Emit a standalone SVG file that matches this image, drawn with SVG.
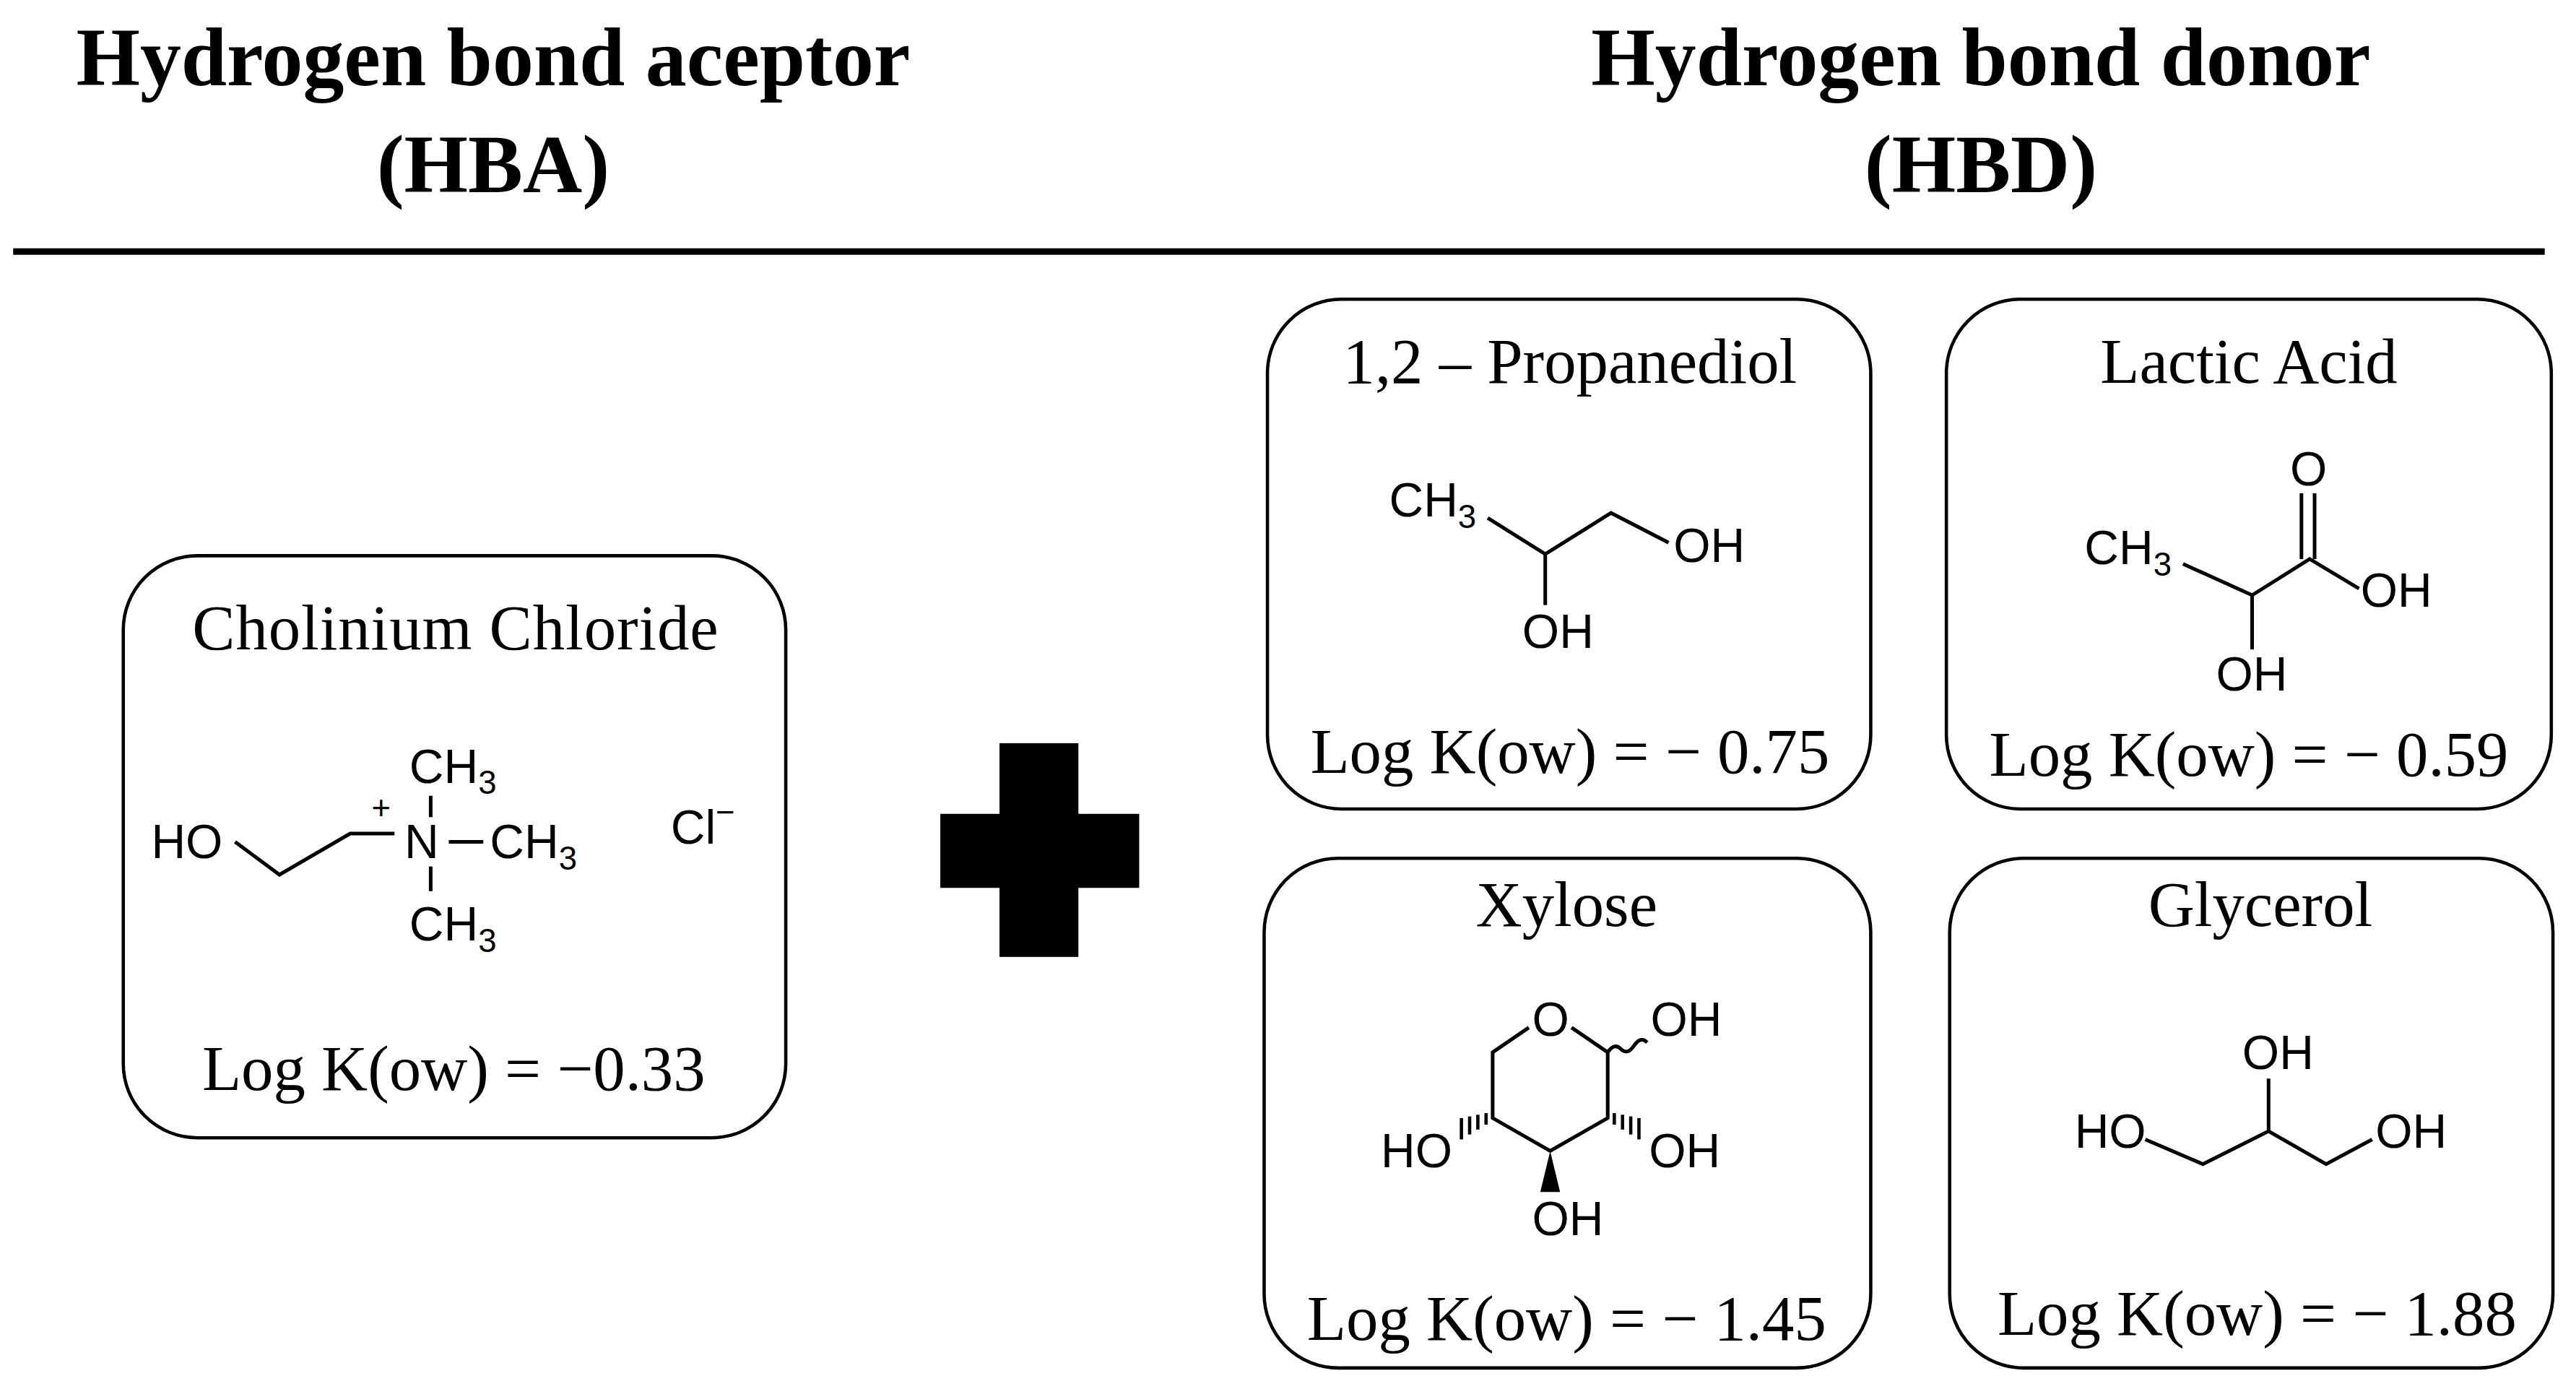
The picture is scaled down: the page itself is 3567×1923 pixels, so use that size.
<svg xmlns="http://www.w3.org/2000/svg" width="3567" height="1923" viewBox="0 0 3567 1923">
<style>
.t{font-family:"Liberation Serif",serif;font-weight:bold;font-size:50px;text-anchor:middle;fill:#000}
.l{font-family:"Liberation Serif",serif;font-size:39px;text-anchor:middle;fill:#000}
.c{font-family:"Liberation Sans",sans-serif;font-size:29px;fill:#000}
.s{font-size:20px}
.b{fill:none;stroke:#000;stroke-width:2.2}
.bx{fill:#fff;stroke:#000;stroke-width:2}
</style>
<rect width="3567" height="1923" fill="#fff"/>
<g transform="scale(2.2763)">
<g id="titles">
<text class="t" x="300" y="52">Hydrogen bond aceptor</text>
<text class="t" x="300" y="117">(HBA)</text>
<text class="t" x="1205" y="52">Hydrogen bond donor</text>
<text class="t" x="1205" y="117">(HBD)</text>
<line x1="8" y1="153" x2="1548" y2="153" stroke="#000" stroke-width="4"/>
</g>
<g id="choline">
<rect class="bx" x="75" y="338" width="403" height="354" rx="45"/>
<text class="l" x="277" y="395" textLength="320">Cholinium Chloride</text>
<text class="c" x="92" y="522">HO</text>
<polyline class="b" points="143,512 170,532 213,507 240,507"/>
<text class="c" x="246" y="522">N</text>
<text class="c s" x="226" y="498">+</text>
<text class="c" x="249" y="476">CH<tspan class="s" dy="7">3</tspan></text>
<line class="b" x1="262" y1="484" x2="262" y2="497"/>
<line class="b" x1="273" y1="512" x2="294" y2="512"/>
<text class="c" x="298" y="522">CH<tspan class="s" dy="7">3</tspan></text>
<line class="b" x1="262" y1="527" x2="262" y2="542"/>
<text class="c" x="249" y="572">CH<tspan class="s" dy="7">3</tspan></text>
<text class="c" x="408" y="513">Cl<tspan class="s" dy="-12">−</tspan></text>
<text class="l" x="276" y="663">Log K(ow) = −0.33</text>
</g>
<g id="plus">
<rect x="608" y="452" width="48" height="130" fill="#000"/>
<rect x="572" y="495" width="121" height="45" fill="#000"/>
</g>
<g id="propanediol">
<rect class="bx" x="771" y="182" width="367" height="310" rx="45"/>
<text class="l" x="955" y="233">1,2 – Propanediol</text>
<text class="c" x="845" y="314">CH<tspan class="s" dy="7">3</tspan></text>
<polyline class="b" points="905,315 940,337 980,312 1015,330"/>
<line class="b" x1="940" y1="337" x2="940" y2="368"/>
<text class="c" x="1018" y="342">OH</text>
<text class="c" x="926" y="394">OH</text>
<text class="l" x="955" y="470">Log K(ow) = − 0.75</text>
</g>
<g id="lactic">
<rect class="bx" x="1184" y="182" width="368" height="310" rx="45"/>
<text class="l" x="1368" y="233">Lactic Acid</text>
<text class="c" x="1268" y="343">CH<tspan class="s" dy="7">3</tspan></text>
<polyline class="b" points="1328,343 1370,362 1405,340 1435,358"/>
<line class="b" x1="1400" y1="340" x2="1400" y2="300"/>
<line class="b" x1="1408" y1="340" x2="1408" y2="300"/>
<text class="c" x="1393" y="295">O</text>
<text class="c" x="1436" y="369">OH</text>
<line class="b" x1="1370" y1="362" x2="1370" y2="395"/>
<text class="c" x="1348" y="420">OH</text>
<text class="l" x="1368" y="472">Log K(ow) = − 0.59</text>
</g>
<g id="xylose">
<rect class="bx" x="769" y="522" width="369" height="310" rx="45"/>
<text class="l" x="953" y="563">Xylose</text>
<text class="c" x="932" y="630">O</text>
<polyline class="b" points="930,625 908,640 908,680 943,700 978,680 978,640 956,625"/>
<path class="b" d="M978,640 q4,-6 8,-2 q4,4 8,-2 q4,-6 8,-2"/>
<text class="c" x="1004" y="630">OH</text>
<g stroke="#000" stroke-width="2">
<line x1="982" y1="684" x2="982" y2="677"/><line x1="987" y1="687" x2="987" y2="678"/><line x1="992" y1="690" x2="992" y2="679"/><line x1="997" y1="693" x2="997" y2="680"/>
<line x1="904" y1="684" x2="904" y2="677"/><line x1="899" y1="687" x2="899" y2="678"/><line x1="894" y1="690" x2="894" y2="679"/><line x1="889" y1="693" x2="889" y2="680"/>
</g>
<polygon points="943,700 937,725 949,725" fill="#000"/>
<text class="c" x="1003" y="710">OH</text>
<text class="c" x="840" y="710">HO</text>
<text class="c" x="932" y="751">OH</text>
<text class="l" x="953" y="815">Log K(ow) = − 1.45</text>
</g>
<g id="glycerol">
<rect class="bx" x="1186" y="522" width="367" height="310" rx="45"/>
<text class="l" x="1375" y="563">Glycerol</text>
<text class="c" x="1262" y="698">HO</text>
<polyline class="b" points="1305,693 1340,708 1380,688 1415,708 1443,693"/>
<line class="b" x1="1380" y1="688" x2="1380" y2="656"/>
<text class="c" x="1364" y="650">OH</text>
<text class="c" x="1445" y="698">OH</text>
<text class="l" x="1373" y="812">Log K(ow) = − 1.88</text>
</g>
</g>
</svg>
